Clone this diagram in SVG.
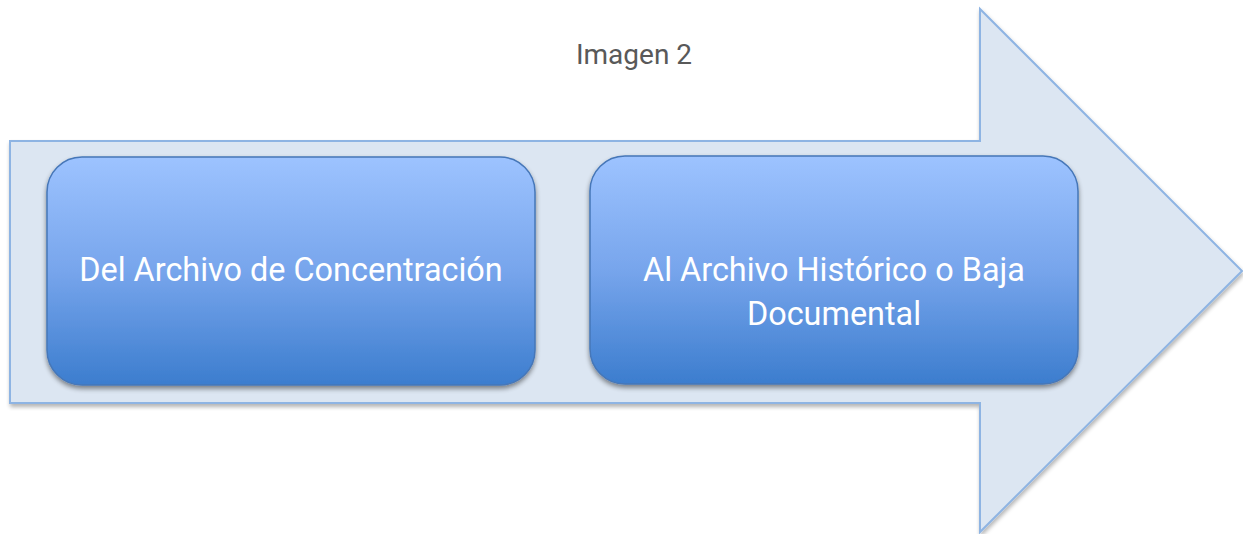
<svg xmlns="http://www.w3.org/2000/svg" width="1243" height="534" viewBox="0 0 1243 534">
  <defs>
    <linearGradient id="boxGrad" x1="0" y1="0" x2="0" y2="1">
      <stop offset="0" stop-color="#9DC3FF"/>
      <stop offset="0.5" stop-color="#77A5EC"/>
      <stop offset="1" stop-color="#3C7DCE"/>
    </linearGradient>
    <filter id="shadow" x="-10%" y="-10%" width="125%" height="130%">
      <feGaussianBlur in="SourceAlpha" stdDeviation="2.5"/>
      <feOffset dx="0" dy="3" result="b"/>
      <feComponentTransfer><feFuncA type="linear" slope="0.45"/></feComponentTransfer>
      <feMerge><feMergeNode/><feMergeNode in="SourceGraphic"/></feMerge>
    </filter>
    <filter id="ashadow" x="-5%" y="-5%" width="110%" height="112%">
      <feGaussianBlur in="SourceAlpha" stdDeviation="2"/>
      <feOffset dx="1" dy="3" result="b"/>
      <feComponentTransfer><feFuncA type="linear" slope="0.3"/></feComponentTransfer>
      <feMerge><feMergeNode/><feMergeNode in="SourceGraphic"/></feMerge>
    </filter>
  </defs>
  <style>
    .box { fill: url(#boxGrad); stroke: #4677B8; stroke-width: 1.5; filter: url(#shadow); }
    .lbl { font-family: Roboto, "Liberation Sans", sans-serif; font-size: 32.4px; fill: #FFFFFF; text-anchor: middle; }
    .title { font-family: Roboto, "Liberation Sans", sans-serif; font-size: 28px; fill: #595959; text-anchor: middle; }
  </style>
  <g id="arrow">
    <path d="M10,141 L980,141 L980,9 L1242,271 L980,532 L980,403 L10,403 Z" fill="#DCE6F2" stroke="#8EB4E3" stroke-width="2" filter="url(#ashadow)"/>
  </g>
  <g id="title">
    <text class="title" x="634" y="64">Imagen 2</text>
  </g>
  <g id="node1">
    <rect class="box" x="47" y="157" width="488" height="228" rx="35" ry="35"/>
    <text class="lbl" x="291" y="281">Del Archivo de Concentración</text>
  </g>
  <g id="node2">
    <rect class="box" x="590" y="156" width="488" height="228" rx="35" ry="35"/>
    <text class="lbl" x="834" y="281">Al Archivo Histórico o Baja</text>
    <text class="lbl" x="834" y="325">Documental</text>
  </g>
  <g id="connectors"></g>
</svg>
